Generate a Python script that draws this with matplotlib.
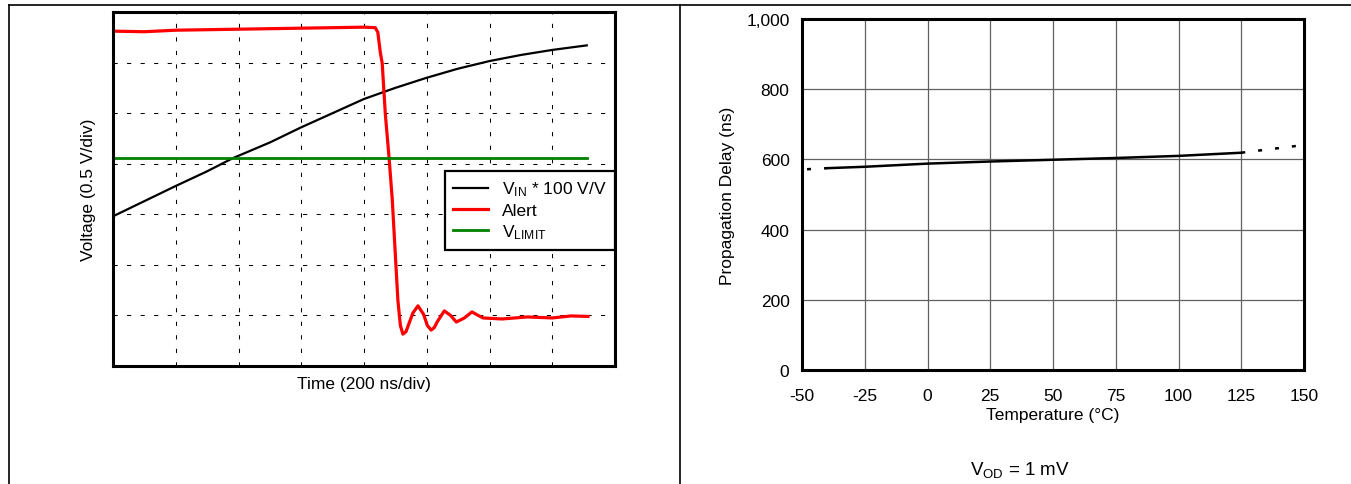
"""Alert response scope capture and propagation delay vs temperature."""

import matplotlib
matplotlib.use("Agg")
import matplotlib.pyplot as plt
from matplotlib.lines import Line2D

plt.rcParams["font.family"] = ["Liberation Sans", "DejaVu Sans"]
plt.rcParams["mathtext.default"] = "regular"
plt.rcParams["axes.unicode_minus"] = False

# left panel, in scope divisions (x: 0..8, y: 0..7)
vin_t = [0.0, 0.5, 1.0, 1.5, 1.91, 2.5, 3.0, 3.5, 4.0, 4.5, 5.0, 5.5, 6.0,
         6.5, 7.0, 7.55]
vin_v = [2.96, 3.26, 3.56, 3.85, 4.11, 4.42, 4.72, 5.00, 5.28, 5.50, 5.70,
         5.88, 6.03, 6.15, 6.25, 6.34]

alert_t = [0.05, 0.5, 1.0, 1.5, 2.0, 2.5, 3.0, 3.5, 4.0, 4.18, 4.22, 4.26,
           4.29, 4.34, 4.40, 4.45, 4.54, 4.58, 4.62, 4.67, 4.72, 4.78, 4.86,
           4.95, 5.01, 5.07, 5.12, 5.17, 5.28, 5.38, 5.47, 5.60, 5.72, 5.82,
           5.90, 6.2, 6.6, 7.0, 7.3, 7.57]
alert_v = [6.62, 6.61, 6.64, 6.65, 6.66, 6.67, 6.68, 6.69, 6.70, 6.69, 6.60,
           6.20, 5.99, 4.98, 4.11, 3.30, 1.30, 0.80, 0.63, 0.68, 0.85, 1.05,
           1.19, 1.02, 0.80, 0.71, 0.76, 0.88, 1.09, 1.00, 0.87, 0.95, 1.07,
           1.00, 0.95, 0.93, 0.97, 0.95, 0.99, 0.98]

vlimit_t = [0.0, 7.55]
vlimit_v = [4.11, 4.11]

# right panel
temp = [-40, -25, 0, 25, 50, 75, 100, 125]
delay = [575, 579, 588, 594, 599, 604, 610, 619]
temp_lo = [-48, -40]
delay_lo = [572, 575]
temp_hi = [125, 150]
delay_hi = [619, 641]

fig = plt.figure(figsize=(13.51, 4.85), dpi=100)

# table frame around the two cells
fig.add_artist(Line2D([8.5 / 1351, 1.0], [1 - 6 / 485] * 2, color="black", lw=1.2))
fig.add_artist(Line2D([8.5 / 1351] * 2, [0, 1 - 6 / 485], color="black", lw=1.2))
fig.add_artist(Line2D([679.5 / 1351] * 2, [0, 1 - 6 / 485], color="black", lw=1.2))

# --- scope capture ---
ax1 = fig.add_axes([113 / 1351, 1 - 367 / 485, 502 / 1351, 354 / 485])
ax1.plot(vin_t, vin_v, color="black", lw=1.6, label=r"V$_{IN}$ * 100 V/V")
ax1.plot(alert_t, alert_v, color="#ff0000", lw=2.3, label="Alert")
ax1.plot(vlimit_t, vlimit_v, color="#008000", lw=2.0, label=r"V$_{LIMIT}$")
ax1.set_xlim(0, 8)
ax1.set_ylim(0, 7)
ax1.set_xticks(range(1, 8))
ax1.set_yticks(range(1, 7))
ax1.tick_params(length=0, labelbottom=False, labelleft=False)
ax1.grid(True, color="black", lw=0.75, linestyle=(0, (4, 9)))
for s in ax1.spines.values():
    s.set_linewidth(2.2)
ax1.set_xlabel("Time (200 ns/div)", fontsize=12.5, labelpad=7)
ax1.set_ylabel("Voltage (0.5 V/div)", fontsize=12.5, labelpad=12)
leg = ax1.legend(loc="upper right", bbox_to_anchor=(1.0, 0.551), borderaxespad=0,
                 fancybox=False, framealpha=1, edgecolor="black", fontsize=12.5,
                 handlelength=2.0, labelspacing=0.25, borderpad=0.5)
leg.get_frame().set_linewidth(1.6)

# --- propagation delay ---
ax2 = fig.add_axes([802 / 1351, 1 - 371 / 485, 502 / 1351, 351 / 485])
ax2.plot(temp, delay, color="black", lw=1.8)
ax2.plot(temp_lo, delay_lo, color="black", lw=1.8, linestyle=(0, (1.6, 5.2)))
ax2.plot(temp_hi, delay_hi, color="black", lw=1.8, linestyle=(0, (1.6, 5.2)))
ax2.set_xlim(-50, 150)
ax2.set_ylim(0, 1000)
ax2.set_xticks(range(-50, 151, 25))
ax2.set_yticks(range(0, 1001, 200))
ax2.set_yticklabels(["0", "200", "400", "600", "800", "1,000"])
ax2.tick_params(length=0, labelsize=12.5)
ax2.tick_params(axis="x", pad=13)
ax2.tick_params(axis="y", pad=9)
ax2.grid(True, color="#606060", lw=0.9)
for s in ax2.spines.values():
    s.set_linewidth(2.2)
ax2.set_xlabel("Temperature (°C)", fontsize=12.5, labelpad=3)
ax2.set_ylabel("Propagation Delay (ns)", fontsize=12.5, labelpad=8)

fig.text(1020 / 1351, 1 - 470 / 485, r"V$_{OD}$ = 1 mV", ha="center", va="center",
         fontsize=13.5)

fig.savefig("out.png", dpi=100)
